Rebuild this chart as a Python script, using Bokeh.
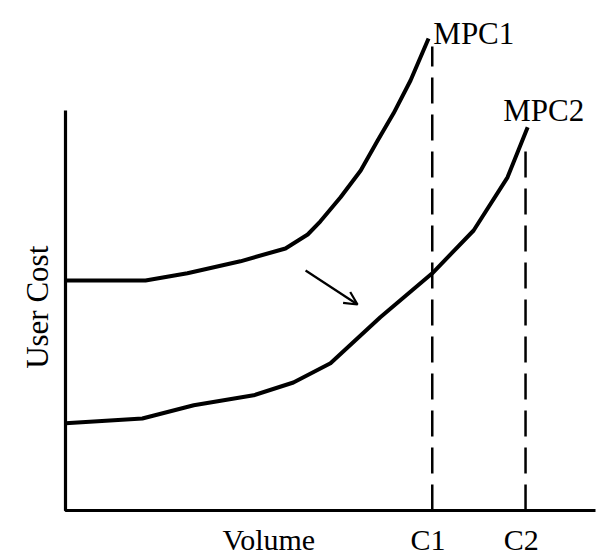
import math
from bokeh.plotting import figure
from bokeh.models import Range1d, Arrow, OpenHead
from bokeh.core.properties import value
from bokeh.embed import file_html
from bokeh.resources import INLINE

# ---- data (arbitrary units: volume on x, user cost on y) ----
mpc1_volume = [0.0, 1.51, 2.30, 3.30, 4.15, 4.57, 4.81, 5.19, 5.57, 5.89, 6.19, 6.51, 6.85]
mpc1_cost = [5.75, 5.75, 5.93, 6.23, 6.55, 6.90, 7.23, 7.83, 8.50, 9.25, 9.93, 10.75, 11.80]

mpc2_volume = [0.0, 1.45, 2.42, 3.55, 4.30, 5.00, 5.94, 6.92, 7.70, 8.34, 8.72]
mpc2_cost = [2.18, 2.30, 2.63, 2.88, 3.20, 3.68, 4.83, 5.93, 7.00, 8.33, 9.58]

capacity_names = ["C1", "C2"]
capacity_volume = [6.92, 8.68]
capacity_top = [11.6, 9.25]

curve_names = ["MPC1", "MPC2"]
curve_label_x = [6.94, 8.26]
curve_label_y = [11.93, 10.0]

x_axis_label = "Volume"
y_axis_label = "User Cost"
axis_len_x = 10.0
axis_len_y = 10.0

arrow_start = (4.53, 6.0)
arrow_end = (5.51, 5.15)

FONT = value("Liberation Serif")

W, H = 598, 556
OX, OY, SX, SY = 65, 510, 53, 40  # origin placement and scale

p = figure(width=W, height=H, output_backend="svg", toolbar_location=None,
           x_range=Range1d(-OX / SX, (W - OX) / SX),
           y_range=Range1d((OY - H) / SY, OY / SY),
           x_axis_type=None, y_axis_type=None, min_border=0)
p.grid.visible = False
p.outline_line_color = None
p.background_fill_color = "white"
p.border_fill_color = "white"

# axes drawn as plain lines
p.line([0, 0, axis_len_x], [axis_len_y, 0, 0], line_color="black", line_width=3.2)

# curves
p.line(mpc1_volume, mpc1_cost, line_color="black", line_width=4, line_join="round")
p.line(mpc2_volume, mpc2_cost, line_color="black", line_width=4, line_join="round")

# capacity dashed lines
p.segment(x0=capacity_volume, y0=[0, 0], x1=capacity_volume, y1=capacity_top,
          line_color="black", line_width=2.5, line_dash="26 11")

# arrow
p.add_layout(Arrow(end=OpenHead(size=13, line_width=2.2, line_color="black"),
                   x_start=arrow_start[0], y_start=arrow_start[1],
                   x_end=arrow_end[0], y_end=arrow_end[1],
                   line_width=2.2, line_color="black"))

# curve labels
p.text(x=curve_label_x, y=curve_label_y, text=curve_names, text_font=FONT,
       text_font_size="31px", text_color="black", text_baseline="alphabetic",
       text_align="left")

# x labels
p.text(x=[2.96], y=[-0.72], text=[x_axis_label], text_font=FONT,
       text_font_size="30px", text_color="black", text_baseline="alphabetic",
       text_align="left")
p.text(x=[v - 0.41 for v in capacity_volume], y=[-0.72, -0.72], text=capacity_names,
       text_font=FONT, text_font_size="30px", text_color="black",
       text_baseline="alphabetic", text_align="left")

# y label
p.text(x=[-0.53], y=[5.08], text=[y_axis_label], text_font=FONT,
       text_font_size="31px", text_color="black", text_baseline="alphabetic",
       text_align="center", angle=math.pi / 2)

open("out.html", "w").write(file_html(p, INLINE))
